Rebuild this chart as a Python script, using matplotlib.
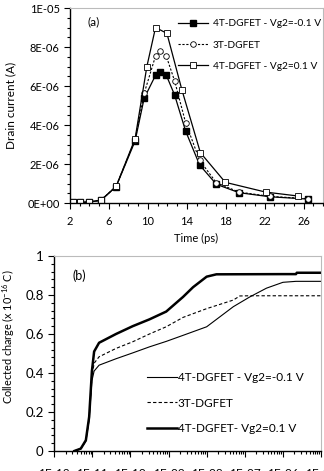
import math
import matplotlib
matplotlib.use("Agg")
import matplotlib.pyplot as plt
from matplotlib.ticker import MultipleLocator, FuncFormatter, LogLocator, NullFormatter

plt.rcParams['font.family'] = ['Lato', 'DejaVu Sans']
plt.rcParams['mathtext.fontset'] = 'custom'
plt.rcParams['mathtext.rm'] = 'Lato'

# (a) drain current vs time
t_neg = [2.27, 3.03, 3.99, 5.19, 6.74, 8.69, 9.62, 10.79, 11.3, 11.89, 12.75, 13.88, 15.32, 17.04, 19.37, 22.53, 26.5]
i_neg = [0.03e-6, 0.03e-6, 0.05e-6, 0.14e-6, 0.84e-6, 3.18e-6, 5.37e-6, 6.55e-6, 6.74e-6, 6.56e-6, 5.54e-6, 3.69e-6, 1.95e-6, 0.96e-6, 0.53e-6, 0.32e-6, 0.2e-6]

t_3t = [2.27, 3.03, 3.99, 5.19, 6.74, 8.69, 9.62, 10.79, 11.3, 11.89, 12.75, 13.88, 15.32, 17.04, 19.37, 22.53, 26.5]
i_3t = [0.03e-6, 0.03e-6, 0.05e-6, 0.15e-6, 0.85e-6, 3.25e-6, 5.62e-6, 7.54e-6, 7.81e-6, 7.54e-6, 6.26e-6, 4.12e-6, 2.19e-6, 1.04e-6, 0.56e-6, 0.34e-6, 0.22e-6]

t_pos = [2.27, 3.03, 3.99, 5.19, 6.74, 8.69, 9.9, 10.79, 11.96, 13.5, 15.4, 17.96, 22.1, 25.4]
i_pos = [0.03e-6, 0.03e-6, 0.05e-6, 0.15e-6, 0.85e-6, 3.3e-6, 7.0e-6, 9.0e-6, 8.7e-6, 5.8e-6, 2.58e-6, 1.06e-6, 0.56e-6, 0.36e-6]

ticks_a = [2, 6, 10, 14, 18, 22, 26]
labels_a = ["4T-DGFET - Vg2=-0.1 V", "3T-DGFET", "4T-DGFET - Vg2=0.1 V"]

# (b) collected charge vs time (s)
t_q_neg = [3.4e-12, 5.0e-12, 6.8e-12, 8.3e-12, 9.8e-12, 1.12e-11, 1.51e-11, 4.2e-11, 1.15e-10, 3.16e-10, 8.7e-10, 2.4e-9, 1e-8, 5e-8, 1.35e-7, 3.7e-7, 1e-6, 2.2e-6, 1e-5]
q_neg = [0.0, 0.012, 0.05, 0.16, 0.36, 0.41, 0.44, 0.473, 0.503, 0.534, 0.562, 0.593, 0.637, 0.74, 0.79, 0.835, 0.865, 0.87, 0.87]

t_q_3t = [3.4e-12, 5.0e-12, 6.8e-12, 8.3e-12, 9.8e-12, 1.12e-11, 1.51e-11, 4.2e-11, 1.15e-10, 3.16e-10, 8.7e-10, 2.4e-9, 1e-8, 5e-8, 7.4e-8, 1.35e-7, 1e-6, 1e-5]
q_3t = [0.0, 0.012, 0.052, 0.17, 0.38, 0.45, 0.483, 0.526, 0.56, 0.6, 0.637, 0.685, 0.73, 0.774, 0.795, 0.796, 0.796, 0.796]

t_q_pos = [3.4e-12, 5.0e-12, 6.8e-12, 8.3e-12, 9.8e-12, 1.12e-11, 1.51e-11, 4.2e-11, 1.15e-10, 3.16e-10, 8.7e-10, 2.4e-9, 4.4e-9, 1e-8, 1.8e-8, 1e-6, 2.2e-6, 2.3e-6, 1e-5]
q_pos = [0.0, 0.012, 0.055, 0.175, 0.41, 0.51, 0.555, 0.6, 0.64, 0.675, 0.715, 0.79, 0.84, 0.894, 0.906, 0.907, 0.907, 0.914, 0.914]

labels_b = ["4T-DGFET - Vg2=-0.1 V", "3T-DGFET", "4T-DGFET- Vg2=0.1 V"]

fig = plt.figure(figsize=(3.24, 4.71), dpi=100)

def style_box(ax, fs):
    for s in ["top", "right"]:
        ax.spines[s].set_color("#bbbbbb")
        ax.spines[s].set_linewidth(0.8)
    for s in ["left", "bottom"]:
        ax.spines[s].set_color("black")
        ax.spines[s].set_linewidth(1.0)
    ax.tick_params(which="both", direction="out", top=False, right=False, labelsize=fs)
    ax.tick_params(which="major", length=4, width=0.8)
    ax.tick_params(which="minor", length=2.5, width=0.8)

ax1 = fig.add_axes([0.216, 0.569, 0.781, 0.414])
ax1.plot(t_neg, i_neg, color="black", lw=0.9, marker="s", ms=4.5, mfc="black", label=labels_a[0])
ax1.plot(t_3t, i_3t, color="black", lw=0.8, ls=(0, (2, 1.5)), marker="o", ms=4, mfc="white", mew=0.6, label=labels_a[1])
ax1.plot(t_pos, i_pos, color="black", lw=0.9, marker="s", ms=4.5, mfc="white", mew=0.6, label=labels_a[2])
ax1.set_xlim(2, 28)
ax1.set_ylim(0, 1e-5)
ax1.set_xticks(ticks_a)
ax1.xaxis.set_minor_locator(MultipleLocator(1))
ax1.yaxis.set_major_locator(MultipleLocator(2e-6))
ax1.yaxis.set_minor_locator(MultipleLocator(0.5e-6))
ax1.yaxis.set_major_formatter(FuncFormatter(lambda v, p: "0E+00" if v == 0 else "%.0E" % v))
style_box(ax1, 8)
ax1.tick_params(axis="x", pad=5)
ax1.set_xlabel("Time (ps)", fontsize=8, labelpad=5)
ax1.set_ylabel("Drain current (A)", fontsize=8.5)
ax1.yaxis.set_label_coords(-0.213, 0.5)
ax1.text(0.07, 0.93, "(a)", transform=ax1.transAxes, fontsize=8.5, va="center")
ax1.legend(loc="center left", bbox_to_anchor=(0.427, 0.81), frameon=False, fontsize=7.3,
           handlelength=3.0, handletextpad=0.4, labelspacing=1.2, borderaxespad=0, borderpad=0)

ax2 = fig.add_axes([0.167, 0.0425, 0.824, 0.414])
ax2.plot(t_q_neg, q_neg, color="black", lw=0.8, label=labels_b[0])
ax2.plot(t_q_3t, q_3t, color="black", lw=0.8, ls=(0, (3, 2)), label=labels_b[1])
ax2.plot(t_q_pos, q_pos, color="black", lw=1.8, label=labels_b[2])
ax2.set_xscale("log")
ax2.set_xlim(1e-12, 1e-5)
ax2.set_ylim(0, 1)
ax2.xaxis.set_major_locator(LogLocator(base=10, numticks=20))
ax2.xaxis.set_minor_locator(LogLocator(base=10, subs=range(2, 10), numticks=20))
ax2.xaxis.set_minor_formatter(NullFormatter())
ax2.xaxis.set_major_formatter(FuncFormatter(lambda v, p: "1E-%02d" % round(-math.log10(v))))
ax2.yaxis.set_major_locator(MultipleLocator(0.2))
ax2.yaxis.set_minor_locator(MultipleLocator(0.04))
ax2.yaxis.set_major_formatter(FuncFormatter(lambda v, p: "%g" % round(v, 1)))
style_box(ax2, 9.5)
ax2.tick_params(axis="x", pad=8, labelsize=8.5)
ax2.set_ylabel("Collected charge (x 10$^{-16}$ C)", fontsize=7.8)
ax2.yaxis.set_label_coords(-0.139, 0.585)
ax2.text(0.07, 0.9, "(b)", transform=ax2.transAxes, fontsize=9, va="center")
ax2.legend(loc="center left", bbox_to_anchor=(0.348, 0.246), frameon=False, fontsize=8.5,
           handlelength=2.5, handletextpad=0.1, labelspacing=1.2, borderaxespad=0, borderpad=0)

fig.savefig("out.png", dpi=100)
